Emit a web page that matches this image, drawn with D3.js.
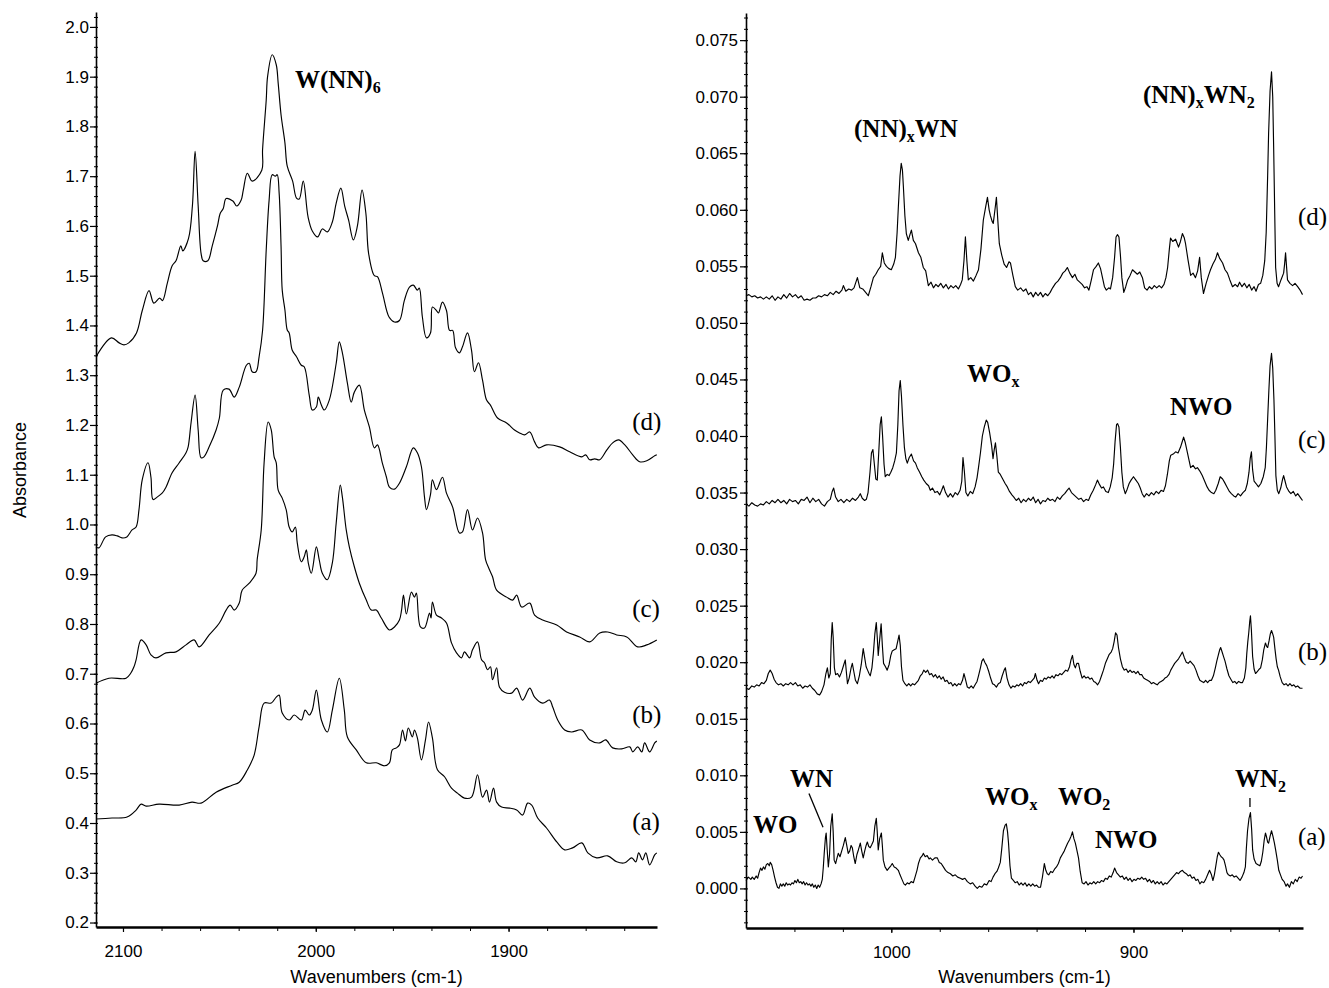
<!DOCTYPE html>
<html>
<head>
<meta charset="utf-8">
<script src="https://cdn.jsdelivr.net/npm/d3@7"></script>
<style>
  html, body { margin: 0; padding: 0; background: #fff; }
  svg { display: block; }
  .tick text { font-family: "Liberation Sans", Arial, sans-serif; font-size: 17px; fill: #000; }
  .axis-title { font-family: "Liberation Sans", Arial, sans-serif; font-size: 18px; fill: #000; }
  .band { font-family: "Liberation Serif", "Times New Roman", serif; font-weight: bold; font-size: 25px; fill: #000; }
  .trace-id { font-family: "Liberation Serif", "Times New Roman", serif; font-size: 25px; fill: #000; }
</style>
</head>
<body>
<svg id="chart" width="1329" height="988"></svg>
<script>
// ---- N≡N stretch region (wavenumber cm-1, absorbance) ----
const nnTraceA = [[2114,0.408],[2105.7,0.41],[2097.9,0.412],[2093.2,0.426],[2090.6,0.438],[2088,0.434],[2081.3,0.438],[2070.9,0.436],[2064.2,0.442],[2059.5,0.44],[2051.7,0.462],[2043.4,0.476],[2039.7,0.482],[2035.6,0.506],[2032,0.536],[2029.4,0.593],[2026.8,0.641],[2023.1,0.641],[2020.5,0.653],[2019,0.657],[2017.4,0.621],[2013.8,0.607],[2011.2,0.617],[2007.5,0.607],[2005.5,0.627],[2003.4,0.617],[2001.8,0.627],[1999.7,0.667],[1997.1,0.607],[1994,0.583],[1991.4,0.627],[1987.8,0.691],[1985.2,0.627],[1983.6,0.573],[1979,0.547],[1973.8,0.521],[1968.6,0.521],[1964.4,0.515],[1961.8,0.521],[1960.3,0.547],[1958.2,0.551],[1956.6,0.557],[1955,0.587],[1953.5,0.565],[1952,0.591],[1949.9,0.573],[1948.8,0.587],[1947.3,0.571],[1945.2,0.527],[1943.1,0.567],[1941.5,0.603],[1939.5,0.571],[1936.9,0.507],[1933.2,0.493],[1929.6,0.47],[1926.5,0.46],[1922.9,0.45],[1919.2,0.452],[1916.1,0.497],[1913.5,0.452],[1911.4,0.466],[1909.9,0.442],[1907.8,0.47],[1906.2,0.442],[1903.6,0.432],[1899.5,0.43],[1895.8,0.426],[1892.7,0.416],[1890.1,0.44],[1888,0.436],[1884.9,0.41],[1880.3,0.39],[1875,0.362],[1870.9,0.346],[1866.8,0.35],[1862,0.36],[1858.9,0.34],[1854.3,0.33],[1848.6,0.334],[1843.9,0.322],[1839.7,0.32],[1836.1,0.33],[1834,0.322],[1832.5,0.34],[1830.5,0.326],[1828.8,0.34],[1826.8,0.316],[1824.2,0.336],[1823.1,0.34]];
const nnTraceB = [[2114,0.681],[2107.3,0.691],[2098.4,0.691],[2096,0.701],[2094.3,0.714],[2093.2,0.728],[2090.6,0.768],[2088,0.758],[2085.5,0.738],[2082.9,0.732],[2077.7,0.742],[2072.5,0.744],[2067.3,0.758],[2063.1,0.768],[2060.5,0.754],[2055.3,0.778],[2050,0.802],[2046.5,0.828],[2044.4,0.838],[2042.3,0.828],[2039.7,0.842],[2038.2,0.868],[2034.5,0.882],[2031,0.902],[2030.4,0.929],[2028.3,0.989],[2026.8,1.124],[2024.7,1.206],[2023.1,1.19],[2021.6,1.136],[2020.5,1.124],[2019.5,1.069],[2017.4,1.053],[2015.3,1.029],[2013.8,0.995],[2012.2,0.985],[2010.6,0.995],[2009.6,0.963],[2007.5,0.925],[2006,0.935],[2004.9,0.949],[2003.9,0.923],[2002.3,0.902],[1999.7,0.955],[1998.2,0.929],[1996.6,0.902],[1994,0.889],[1991.4,0.923],[1989.4,1.003],[1987.3,1.079],[1986.2,1.055],[1984.2,0.989],[1982.6,0.955],[1980,0.915],[1977.4,0.882],[1973.8,0.848],[1971.2,0.828],[1968.6,0.828],[1966,0.812],[1961.8,0.788],[1959.2,0.794],[1956.6,0.808],[1955.5,0.828],[1954.5,0.858],[1953,0.82],[1950.4,0.864],[1948.8,0.854],[1947.8,0.862],[1945.7,0.794],[1943.6,0.792],[1941,0.822],[1940.2,0.812],[1939.5,0.844],[1937.4,0.818],[1934.8,0.812],[1932.2,0.802],[1929.6,0.762],[1927,0.742],[1924.4,0.732],[1922.9,0.744],[1920.2,0.732],[1918.7,0.748],[1916.1,0.764],[1914,0.728],[1912.5,0.722],[1910.9,0.708],[1909.4,0.714],[1908.3,0.688],[1906.2,0.712],[1904.7,0.673],[1902.1,0.663],[1898.4,0.661],[1895.8,0.671],[1892.7,0.647],[1889,0.671],[1886.5,0.653],[1882.3,0.641],[1878.7,0.647],[1877.1,0.633],[1874.5,0.607],[1870.9,0.587],[1867.3,0.583],[1862,0.587],[1857.9,0.567],[1852.7,0.561],[1849.6,0.567],[1846,0.551],[1841.3,0.549],[1837.1,0.553],[1835.6,0.543],[1833,0.553],[1830.9,0.543],[1829.4,0.561],[1826.8,0.543],[1824.2,0.561],[1823.1,0.565]];
const nnTraceC = [[2114,0.955],[2112.5,0.953],[2109,0.975],[2105.7,0.979],[2103,0.977],[2100.5,0.973],[2098,0.975],[2095.3,0.989],[2093.2,0.995],[2091.7,1.03],[2090,1.09],[2087,1.124],[2085.5,1.095],[2084.4,1.05],[2082.3,1.055],[2079.7,1.063],[2077.7,1.075],[2074.5,1.104],[2071,1.123],[2067.3,1.144],[2066.2,1.156],[2064.7,1.204],[2062.6,1.26],[2061,1.19],[2059.5,1.134],[2058,1.136],[2055.3,1.156],[2051.7,1.19],[2050,1.214],[2048,1.27],[2045,1.272],[2042.3,1.256],[2039.7,1.276],[2036,1.32],[2034.5,1.324],[2033,1.307],[2031,1.307],[2029.4,1.337],[2027.6,1.39],[2025.7,1.552],[2024.2,1.652],[2022.6,1.703],[2021,1.7],[2020,1.703],[2019,1.666],[2018,1.558],[2017.4,1.471],[2016,1.431],[2014.8,1.391],[2013.8,1.385],[2012.2,1.35],[2010,1.337],[2007.5,1.32],[2006,1.317],[2003.4,1.26],[2001.8,1.23],[1999.7,1.236],[1998.7,1.256],[1997.1,1.24],[1995.6,1.23],[1993,1.25],[1989.4,1.324],[1987.8,1.367],[1986.2,1.345],[1983.6,1.284],[1981.6,1.246],[1980,1.266],[1977.4,1.28],[1974.8,1.23],[1972.2,1.196],[1969.6,1.154],[1968,1.16],[1965.5,1.124],[1963.4,1.096],[1961.8,1.075],[1959.2,1.071],[1956.6,1.083],[1953,1.116],[1949.4,1.154],[1947.3,1.144],[1945.2,1.116],[1943.6,1.055],[1942.6,1.03],[1940.5,1.06],[1939.5,1.09],[1937.4,1.07],[1934.3,1.095],[1932.2,1.063],[1929,1.035],[1925.5,0.983],[1923.9,0.985],[1921.3,1.03],[1918.7,0.989],[1916.1,1.013],[1913.5,0.983],[1911.9,0.929],[1909.9,0.909],[1908.3,0.895],[1906.2,0.868],[1901,0.854],[1897.9,0.848],[1895.8,0.858],[1893.2,0.834],[1889,0.842],[1886.5,0.818],[1882.3,0.808],[1875,0.798],[1869.9,0.784],[1863.1,0.774],[1857.9,0.764],[1852.7,0.782],[1848.6,0.784],[1843.9,0.778],[1838.7,0.774],[1833,0.754],[1828.3,0.758],[1823.1,0.768]];
const nnTraceD = [[2114,1.337],[2106,1.375],[2102,1.365],[2099.5,1.361],[2097,1.365],[2093,1.385],[2090,1.43],[2086.5,1.47],[2084,1.445],[2081,1.455],[2079.5,1.45],[2077,1.485],[2074.5,1.52],[2072.5,1.53],[2070,1.56],[2069,1.55],[2066,1.575],[2064,1.64],[2062.6,1.75],[2061,1.64],[2059.5,1.545],[2058.4,1.53],[2056,1.53],[2053.7,1.56],[2051,1.6],[2049.6,1.625],[2048,1.635],[2046.5,1.655],[2043,1.65],[2041,1.64],[2038.7,1.652],[2037.6,1.672],[2035.5,1.706],[2033,1.69],[2028,1.712],[2027.6,1.753],[2025.7,1.853],[2025,1.9],[2022.6,1.944],[2020.5,1.924],[2019.5,1.887],[2018,1.823],[2016,1.767],[2014.8,1.72],[2012,1.69],[2010,1.656],[2008.6,1.654],[2006.5,1.69],[2004,1.618],[2001.8,1.59],[1999,1.578],[1996.6,1.594],[1994,1.588],[1991.4,1.608],[1989.4,1.646],[1987,1.676],[1985,1.64],[1983,1.612],[1980.5,1.572],[1978.4,1.6],[1976,1.672],[1974,1.625],[1972.6,1.545],[1969.6,1.5],[1968,1.498],[1965.4,1.465],[1962,1.417],[1959.2,1.407],[1956.6,1.41],[1954,1.451],[1951.4,1.477],[1949.4,1.481],[1947.3,1.471],[1946.3,1.475],[1944.7,1.417],[1942.6,1.375],[1940.5,1.385],[1939.5,1.437],[1937.4,1.43],[1936.4,1.425],[1934.3,1.447],[1932.2,1.43],[1930.6,1.39],[1929,1.39],[1927.5,1.355],[1925.5,1.345],[1923.9,1.357],[1921.3,1.385],[1919.2,1.35],[1917.7,1.307],[1915.6,1.325],[1913.5,1.29],[1911.4,1.25],[1909.4,1.24],[1905.7,1.214],[1901,1.204],[1896.9,1.19],[1894.3,1.184],[1891.7,1.18],[1889,1.186],[1886.5,1.166],[1884.4,1.154],[1880.3,1.16],[1873.5,1.156],[1868.3,1.146],[1862,1.136],[1860,1.14],[1857.9,1.13],[1855.3,1.132],[1852.7,1.13],[1849,1.15],[1846,1.164],[1842.9,1.17],[1839.7,1.16],[1835.6,1.14],[1832,1.126],[1828.3,1.128],[1824.2,1.138],[1823.1,1.14]];

// ---- W≡N / W=O stretch region (wavenumber cm-1, absorbance) ----
const wnTraceA = [[1060,.0007],[1059,.001],[1058,.0008],[1057.4,.001],[1056.6,.0008],[1055.8,.0011],[1055.2,.0009],[1054.6,.0014],[1054,.0018],[1053.4,.0016],[1052.8,.0019],[1052.2,.0017],[1051.6,.0021],[1051,.0022],[1050.4,.002],[1050,.0023],[1049.4,.0021],[1048.8,.0016],[1048.2,.001],[1047.6,.0005],[1047,.0001],[1046.4,0],[1045.8,.0004],[1045.2,.0002],[1044.6,.0004],[1044,.0002],[1043.4,.0005],[1042.8,.0003],[1042.2,.0004],[1041.6,.0003],[1041,.0005],[1040.4,.0004],[1039.8,.0007],[1039.2,.0005],[1038.6,.0008],[1038,.0005],[1037.4,.0006],[1036.8,.0004],[1036.2,.0006],[1035.6,.0003],[1035,.0005],[1034.4,.0003],[1033.8,.0004],[1033.2,.0002],[1032.6,.0004],[1032,.0001],[1031.4,.0003],[1030.8,0],[1030.2,.0003],[1029.6,.0001],[1029,.0004],[1028.5,.0008],[1028.1,.0018],[1027.7,.0031],[1027.2,.0045],[1026.9,.0049],[1026.5,.0035],[1026,.0019],[1025.5,.003],[1025,.0055],[1024.4,.0066],[1024,.005],[1023.6,.0025],[1023,.0022],[1022.4,.0027],[1021.9,.0031],[1021.2,.0028],[1020.5,.0033],[1019.8,.0038],[1019,.0045],[1018.4,.0038],[1017.8,.0031],[1017.2,.0033],[1016.6,.0038],[1016.1,.0036],[1015.5,.0028],[1014.9,.0022],[1014.2,.003],[1013.6,.0034],[1012.8,.004],[1012.2,.0033],[1011.6,.0027],[1011,.0033],[1010.4,.0038],[1009.9,.0041],[1009.3,.0037],[1008.7,.0036],[1008,.0039],[1007.4,.0042],[1006.8,.0055],[1006.2,.0062],[1005.8,.005],[1005.4,.0034],[1004.8,.0044],[1004.1,.0049],[1003.7,.0038],[1003.3,.0025],[1002.6,.0019],[1001.7,.0016],[1001,.0018],[1000.2,.002],[999.6,.0022],[998.8,.0019],[998,.0018],[997.1,.0016],[996.4,.0012],[995.6,.0008],[994.8,.0004],[994.2,.0003],[993.4,.0005],[992.6,.0004],[991.8,.0006],[990.9,.0005],[990.2,.001],[989.4,.0016],[988.8,.0022],[988,.0027],[987.2,.0029],[986.8,.0031],[986,.0028],[985.2,.0029],[984.4,.0026],[983.9,.0027],[983,.0025],[982,.0027],[981,.0027],[980.2,.0023],[979.4,.0022],[978.5,.0019],[977.6,.0016],[976.6,.0014],[975.6,.0013],[974.6,.0011],[973.6,.0012],[972.6,.001],[971.5,.0009],[970.6,.0008],[969.6,.0009],[968.6,.0006],[967.4,.0004],[966.4,.0005],[965.4,.0002],[964.5,0],[963.6,.0002],[962.6,.0001],[961.6,.0004],[960.6,.0003],[959.6,.0007],[958.8,.0006],[958,.001],[957.2,.0013],[956.4,.0015],[955.8,.0018],[955,.0023],[954.4,.0035],[953.7,.0051],[953,.0056],[952.5,.0057],[952,.005],[951.6,.004],[951,.002],[950.4,.0009],[949.6,.0007],[948.8,.0005],[948,.0006],[947.2,.0003],[946.4,.0005],[945.6,.0003],[944.8,.0005],[944,.0002],[943.2,.0004],[942.4,.0002],[941.6,.0004],[940.8,.0002],[940,.0003],[939.2,.0001],[938.4,.0001],[937.6,.001],[936.8,.0022],[936.2,.0016],[935.6,.0013],[935,.0012],[934.2,.0015],[933.4,.0014],[932.6,.0017],[931.8,.0019],[931,.0022],[930.2,.0027],[929.4,.003],[928.6,.0033],[927.8,.0037],[927.2,.004],[926.4,.0043],[925.8,.0046],[925.2,.005],[924.6,.0044],[924,.004],[923.4,.0034],[922.7,.0027],[922,.0015],[921.2,.0005],[920.4,.0004],[919.6,.0006],[918.8,.0003],[918,.0005],[917.2,.0004],[916.4,.0006],[915.6,.0004],[914.8,.0006],[914,.0005],[913.2,.0007],[912.4,.0006],[911.6,.0009],[910.8,.0008],[910,.0011],[909.2,.001],[908.4,.0014],[907.8,.0018],[907,.0014],[906.2,.0012],[905.4,.001],[904.6,.0011],[903.8,.0008],[903,.001],[902.2,.0007],[901.4,.0009],[900.6,.0006],[899.8,.0008],[899,.0007],[898.2,.0009],[897.4,.0008],[896.6,.001],[895.8,.0008],[895,.0009],[894.2,.0006],[893.4,.0008],[892.6,.0005],[891.8,.0007],[891,.0004],[890.2,.0006],[889.4,.0004],[888.6,.0006],[887.8,.0003],[887,.0005],[886.2,.0004],[885.4,.0006],[884.6,.0008],[883.8,.001],[883,.0012],[882.2,.0014],[881.4,.0013],[880.6,.0015],[879.8,.0016],[879,.0014],[878.2,.0013],[877.4,.0011],[876.6,.0012],[875.8,.0009],[875,.001],[874.2,.0007],[873.4,.0008],[872.6,.0004],[871.8,.0006],[871,.0005],[870.2,.0008],[869.4,.0012],[868.6,.0016],[867.8,.0012],[867.2,.0007],[866.6,.0012],[866,.002],[865.4,.0028],[864.9,.0032],[864.4,.003],[863.8,.0028],[863.2,.0027],[862.6,.0025],[862,.002],[861.4,.0014],[860.8,.0012],[860,.0011],[859.2,.0012],[858.4,.001],[857.6,.0011],[856.8,.0009],[856,.0007],[855.2,.001],[854.4,.0014],[853.8,.0019],[853.4,.0035],[852.9,.0051],[852.3,.0062],[851.7,.0067],[851.2,.0052],[850.8,.0034],[850.2,.0026],[849.4,.0022],[848.6,.0021],[847.8,.002],[847.2,.0024],[846.6,.0032],[846,.0043],[845.5,.0049],[845,.0045],[844.6,.0041],[844.2,.004],[843.6,.0046],[843,.0051],[842.4,.0046],[841.8,.004],[841.3,.0034],[840.6,.0025],[840,.0016],[839.3,.0012],[838.6,.0008],[837.8,.0006],[837,.0002],[836.4,.0004],[835.6,.0001],[834.8,.0006],[834,.0004],[833.2,.0008],[832.4,.0006],[831.6,.001],[830.8,.0009],[830.2,.0011]];
const wnTraceB = [[1060,.0177],[1058.8,.0176],[1057.6,.0179],[1056.6,.0178],[1055.6,.018],[1054.6,.0179],[1053.6,.0182],[1052.6,.0181],[1051.6,.0184],[1050.8,.019],[1050,.0193],[1049.2,.019],[1048.4,.0185],[1047.6,.0182],[1046.6,.018],[1045.6,.0181],[1044.6,.0179],[1043.6,.0181],[1042.6,.018],[1041.6,.0182],[1040.6,.018],[1039.6,.0182],[1038.6,.0179],[1037.6,.018],[1036.6,.0177],[1035.6,.0179],[1034.6,.0178],[1033.6,.018],[1032.6,.0177],[1031.6,.0175],[1030.6,.0172],[1029.6,.0171],[1028.8,.0174],[1027.8,.018],[1027,.019],[1026.4,.0195],[1025.8,.0186],[1025.2,.019],[1024.8,.022],[1024.4,.0235],[1024,.0222],[1023.5,.0195],[1023,.0189],[1022.2,.019],[1021.4,.0187],[1020.6,.0191],[1019.6,.0198],[1019,.0202],[1018.5,.019],[1018.1,.0181],[1017.4,.0186],[1016.6,.0195],[1016.1,.0199],[1015.5,.0192],[1014.8,.0184],[1014,.0181],[1013.2,.0188],[1012.4,.0198],[1011.6,.0212],[1011,.0204],[1010.4,.0196],[1009.8,.0193],[1009.2,.019],[1008.7,.0188],[1008,.0195],[1007.4,.0208],[1006.8,.0225],[1006.2,.0235],[1005.8,.0222],[1005.4,.0206],[1004.8,.022],[1004.2,.0234],[1003.7,.0215],[1003.2,.0199],[1002.4,.0196],[1001.7,.0193],[1000.9,.0198],[1000.2,.0206],[999.6,.021],[998.8,.0211],[998,.0212],[997.4,.0218],[996.8,.0224],[996.3,.0215],[995.8,.0196],[995.2,.0184],[994.4,.0181],[993.6,.0179],[992.8,.0181],[992,.0179],[991.2,.0181],[990.4,.018],[989.6,.0182],[988.8,.0184],[988,.0188],[987.2,.019],[986.6,.0193],[985.8,.0191],[985,.0193],[984.2,.0189],[983.4,.019],[982.6,.0187],[981.8,.0189],[981,.0186],[980.2,.0188],[979.4,.0185],[978.6,.0187],[977.8,.0183],[977,.0184],[976.2,.0181],[975.4,.0182],[974.6,.0179],[973.8,.0181],[973,.0179],[972.2,.0181],[971.4,.018],[970.6,.0184],[970,.019],[969.4,.0185],[968.6,.0178],[967.8,.0177],[967,.0179],[966.2,.0177],[965.4,.018],[964.6,.0183],[964,.0188],[963.2,.0195],[962.6,.0201],[962,.0203],[961.4,.02],[960.6,.0197],[959.8,.0192],[959,.0186],[958.2,.0181],[957.4,.018],[956.6,.0178],[955.8,.0181],[955,.0182],[954.2,.0188],[953.4,.0193],[952.9,.0195],[952.2,.0186],[951.4,.018],[950.6,.0177],[949.8,.0179],[949,.0178],[948.2,.018],[947.4,.0179],[946.6,.0181],[945.8,.0179],[945,.0182],[944.2,.0181],[943.4,.0183],[942.6,.0182],[941.8,.0184],[941,.0186],[940.5,.019],[939.8,.0184],[939.2,.0181],[938.4,.0184],[937.6,.0183],[936.8,.0186],[936,.0185],[935.2,.0187],[934.4,.0186],[933.6,.0188],[932.8,.0186],[932,.0189],[931.2,.0188],[930.4,.019],[929.6,.0189],[928.8,.0191],[928,.0193],[927.2,.0192],[926.4,.0196],[925.8,.0202],[925.2,.0206],[924.6,.0198],[924,.0195],[923.4,.0199],[922.7,.0199],[922,.0192],[921.2,.0186],[920.4,.0188],[919.6,.0186],[918.8,.0187],[918,.0185],[917.2,.0186],[916.4,.0183],[915.6,.0182],[914.8,.018],[914,.0183],[913.2,.0188],[912.4,.0193],[911.6,.0199],[910.8,.0203],[910,.0207],[909.2,.0209],[908.6,.0212],[908,.0218],[907.4,.0226],[906.8,.0224],[906.2,.0213],[905.4,.0203],[904.6,.0196],[903.8,.0193],[903,.0194],[902.2,.0191],[901.4,.0193],[900.6,.0191],[899.8,.0192],[899,.019],[898.2,.0192],[897.4,.0189],[896.6,.0189],[895.8,.0186],[895,.0185],[894.2,.0184],[893.4,.0183],[892.6,.0181],[891.8,.0182],[891,.0181],[890.2,.018],[889.4,.0182],[888.6,.0183],[887.8,.0184],[887,.0186],[886.2,.0187],[885.4,.0189],[884.6,.0193],[883.8,.0196],[883,.0199],[882.2,.0201],[881.4,.0203],[880.6,.0206],[879.8,.0209],[879,.0204],[878.2,.02],[877.4,.0199],[876.6,.0201],[875.8,.0199],[875,.0197],[874.2,.0193],[873.4,.0188],[872.6,.0184],[871.8,.0183],[871,.0182],[870.2,.0184],[869.4,.0182],[868.6,.0184],[867.8,.0184],[867,.0188],[866.2,.0195],[865.6,.0201],[865,.0206],[864.4,.0211],[864,.0213],[863.4,.0209],[862.8,.0205],[862.2,.0201],[861.4,.0194],[860.6,.0188],[859.8,.0185],[859,.0182],[858.2,.0183],[857.4,.0181],[856.6,.0183],[855.8,.0182],[855,.0182],[854.2,.0186],[853.6,.0195],[853.2,.0208],[852.8,.0218],[852.4,.0226],[852,.0236],[851.7,.0241],[851.3,.0228],[850.8,.0205],[850.2,.0194],[849.6,.019],[848.8,.0192],[848,.0194],[847.5,.0195],[846.8,.0202],[846.2,.0211],[845.5,.0217],[845,.0214],[844.6,.0213],[844,.0219],[843.5,.0225],[843,.0228],[842.5,.0225],[842.1,.0222],[841.6,.0212],[841.1,.0203],[840.6,.0196],[840.1,.0193],[839.4,.0187],[838.6,.0182],[837.8,.018],[837,.0181],[836.2,.0179],[835.4,.0181],[834.6,.0179],[833.8,.018],[833,.0178],[832.2,.0179],[831.2,.0177],[830.2,.0177]];
const wnTraceC = [[1060,.034],[1058.8,.0338],[1057.6,.0341],[1056.4,.0339],[1055.2,.0338],[1054,.034],[1052.8,.0339],[1051.6,.0342],[1050.4,.034],[1049.2,.0343],[1048,.0341],[1046.8,.0344],[1045.6,.0341],[1044.4,.0343],[1043.2,.034],[1042,.0344],[1040.8,.0342],[1039.6,.0343],[1038.4,.034],[1037.2,.0344],[1036,.0343],[1034.8,.0346],[1033.6,.0341],[1032.4,.0345],[1031.2,.0342],[1030,.0344],[1028.8,.034],[1027.6,.0338],[1026.4,.0342],[1025.2,.0344],[1024.4,.0351],[1023.8,.0354],[1023,.0346],[1021.9,.0342],[1020.8,.0344],[1019.6,.0341],[1018.4,.0344],[1017.2,.0342],[1016,.0345],[1014.8,.0343],[1013.6,.0346],[1012.8,.0349],[1012,.0345],[1011,.0343],[1010.3,.0344],[1009.6,.035],[1008.8,.0368],[1008.2,.0385],[1007.6,.0388],[1007,.0375],[1006.4,.0362],[1005.8,.0361],[1005.2,.0385],[1004.6,.041],[1004.1,.0417],[1003.6,.04],[1003,.0375],[1002.5,.0364],[1001.7,.0366],[1000.9,.0365],[1000.2,.0368],[999.4,.0372],[998.6,.0378],[997.9,.0385],[997.3,.041],[996.8,.044],[996.3,.0449],[995.8,.0435],[995.2,.041],[994.6,.039],[994,.038],[993.4,.0376],[992.6,.0381],[991.7,.0384],[990.8,.0378],[990,.0376],[989.3,.0372],[988.3,.0368],[987.4,.0364],[986.6,.0361],[985.6,.0358],[984.6,.0356],[983.9,.0352],[983,.0354],[982,.035],[981,.0351],[980,.0348],[979.2,.0352],[978.5,.0356],[977.6,.035],[976.6,.0346],[975.6,.0349],[974.6,.0346],[973.6,.035],[972.6,.0348],[971.6,.0352],[970.9,.036],[970.4,.0381],[969.8,.0368],[969.2,.035],[968.4,.0347],[967.4,.0351],[966.4,.0349],[965.4,.0355],[964.6,.0363],[964,.0372],[963.2,.0385],[962.4,.04],[961.6,.0408],[960.8,.0414],[960.2,.0412],[959.4,.0403],[958.6,.0392],[958,.038],[957.5,.0388],[957,.0394],[956.4,.0382],[955.8,.0368],[955,.0366],[954,.0362],[953,.0358],[952.1,.0355],[951.2,.0351],[950.2,.0348],[949.4,.0346],[948.4,.0343],[947.4,.0345],[946.4,.0341],[945.4,.0344],[944.4,.0342],[943.4,.0345],[942.4,.0343],[941.4,.0346],[940.4,.0341],[939.4,.0344],[938.4,.034],[937.4,.0343],[936.4,.0342],[935.4,.0345],[934.4,.0343],[933.4,.0344],[932.4,.0342],[931.4,.0346],[930.4,.0344],[929.4,.0347],[928.4,.0349],[927.4,.0352],[926.6,.0354],[925.6,.035],[924.6,.0348],[923.6,.0346],[922.6,.0344],[921.6,.0345],[920.6,.0342],[919.6,.0344],[918.6,.0343],[917.6,.0348],[916.6,.0352],[915.6,.0357],[914.9,.0361],[914,.0357],[913.2,.0354],[912.4,.0355],[911.4,.0351],[910.4,.035],[909.6,.0355],[908.8,.0363],[908.2,.0375],[907.6,.0395],[907,.041],[906.6,.0411],[906,.0408],[905.4,.039],[904.8,.0368],[904.2,.0355],[903.4,.0349],[902.6,.0353],[901.8,.0358],[901,.0361],[900,.0364],[899,.0361],[898,.0358],[897.2,.0354],[896.4,.0349],[895.6,.0346],[894.6,.0349],[893.6,.0347],[892.6,.035],[891.6,.0348],[890.6,.0351],[889.6,.0349],[888.6,.0352],[887.6,.0351],[886.8,.0356],[886,.0366],[885.2,.0378],[884.6,.0383],[883.6,.0384],[882.6,.0386],[881.6,.0385],[880.6,.039],[880,.0394],[879.3,.0399],[878.6,.0394],[877.8,.0386],[877,.0378],[876.4,.0372],[875.4,.0374],[874.4,.0371],[873.6,.0372],[872.6,.0369],[871.6,.0365],[870.6,.036],[869.6,.0355],[868.8,.0352],[867.8,.035],[866.8,.0349],[866,.0352],[865,.0358],[864.2,.0364],[863.2,.0362],[862.4,.0359],[861.4,.0355],[860.4,.0351],[859.6,.0349],[858.6,.0347],[857.8,.0346],[856.8,.0349],[855.8,.0347],[854.8,.035],[853.8,.0352],[853,.0358],[852.3,.0368],[851.8,.038],[851.3,.0386],[850.8,.037],[850.2,.036],[849.4,.0358],[848.4,.0355],[847.4,.0358],[846.4,.0364],[845.6,.0372],[845.1,.039],[844.6,.0415],[844.1,.044],[843.6,.0462],[843,.0473],[842.5,.046],[842,.0432],[841.6,.04],[841.2,.0365],[840.6,.0352],[840,.0349],[839.2,.0354],[838.4,.0362],[838,.0365],[837.4,.036],[836.8,.0355],[835.8,.0351],[835,.0349],[834,.0351],[833,.0347],[832.2,.0349],[831.2,.0346],[830.2,.0343]];
const wnTraceD = [[1060,.0524],[1058.8,.0525],[1057.6,.0523],[1056.4,.0524],[1055.2,.0522],[1054,.0523],[1052.8,.0521],[1051.6,.0523],[1050.4,.0521],[1049.2,.0524],[1048,.052],[1046.8,.0523],[1045.6,.0521],[1044.4,.0525],[1043.2,.0522],[1042,.0526],[1040.8,.0523],[1039.6,.0525],[1038.4,.0522],[1037.2,.0524],[1036,.052],[1034.8,.0521],[1033.6,.052],[1032.4,.0522],[1031.2,.0522],[1030,.0524],[1028.8,.0523],[1027.6,.0525],[1026.4,.0524],[1025.2,.0527],[1024,.0525],[1022.8,.0528],[1021.6,.0526],[1020.4,.0529],[1019.8,.0533],[1018.8,.0528],[1017.6,.053],[1016.4,.0529],[1015.4,.0531],[1014,.054],[1013,.0531],[1011.8,.053],[1010.6,.0527],[1009.5,.0524],[1008.4,.0532],[1007.4,.054],[1006.4,.0543],[1005.4,.0547],[1004.4,.055],[1003.7,.0562],[1002.9,.0553],[1002,.055],[1001,.0548],[1000,.0547],[999,.0552],[998.3,.0558],[997.6,.058],[997.1,.0602],[996.4,.063],[995.9,.0641],[995.4,.0635],[995,.062],[994.4,.0595],[993.8,.0579],[993,.0573],[992.3,.0578],[991.7,.0582],[990.9,.0573],[990,.057],[988.8,.0562],[987.8,.0558],[986.8,.0549],[985.8,.0546],[984.7,.0533],[983.6,.0536],[982.6,.0531],[981.6,.0534],[980.6,.0532],[979.6,.0535],[978.5,.0531],[977.4,.0534],[976.4,.053],[975.4,.0533],[974.4,.0531],[973.4,.0533],[972.3,.053],[971.4,.0534],[970.7,.0538],[970,.0555],[969.4,.0576],[968.8,.0555],[968.2,.0538],[967.2,.054],[966.1,.0537],[965,.0542],[964,.0547],[963,.0565],[962,.0591],[961,.0603],[960.3,.0611],[959.6,.06],[959.1,.0595],[958.4,.059],[957.9,.0588],[957.2,.06],[956.6,.0611],[956,.059],[955.4,.057],[954.4,.056],[953.4,.0552],[952.4,.0549],[951.4,.0554],[950.8,.0553],[949.8,.0542],[948.8,.0532],[947.8,.0529],[946.6,.0531],[945.5,.0528],[944.4,.053],[943.4,.0525],[942.4,.0527],[941.4,.0523],[940.4,.0527],[939.4,.0524],[938.4,.0527],[937.4,.0523],[936.4,.0526],[935.4,.0524],[934.4,.0527],[933.4,.0531],[932.2,.0535],[931.2,.0537],[930.2,.054],[929.2,.0544],[928.2,.0546],[927.3,.0549],[926.3,.0544],[925.2,.054],[924.2,.0543],[923.2,.0538],[922.2,.0536],[921.2,.0534],[920.2,.0531],[919.2,.0532],[918.4,.0529],[917.4,.0538],[916.5,.0547],[915.4,.055],[914.5,.0553],[913.6,.0548],[912.8,.054],[912,.0532],[911.2,.0529],[910.2,.0531],[909.5,.053],[908.6,.054],[907.8,.0558],[907.2,.0576],[906.6,.0578],[906,.0576],[905.4,.056],[904.8,.054],[904,.0527],[903.2,.0532],[902.4,.0538],[901.4,.0542],[900.4,.0547],[899.4,.0545],[898.4,.0543],[897.4,.0545],[896.3,.054],[895.4,.0531],[894.4,.0529],[893.4,.0532],[892.4,.053],[891.4,.0533],[890.4,.0531],[889.4,.0533],[888.4,.0531],[887.4,.0534],[886.6,.054],[885.9,.0549],[885.2,.0565],[884.7,.0575],[883.8,.0572],[882.6,.0574],[881.4,.0567],[880.6,.0572],[879.8,.0579],[879,.0575],[878.5,.057],[877.5,.0556],[876.4,.0542],[875.4,.0544],[874.4,.054],[873.5,.0546],[872.7,.0558],[872,.054],[871.1,.0526],[870,.0535],[869,.0542],[868.2,.0547],[867.2,.0552],[866.2,.0556],[865.3,.0562],[864.4,.0557],[863.2,.0553],[862.2,.0547],[861.2,.0544],[860.2,.0538],[859.1,.0532],[858,.0534],[857,.0532],[856.2,.0536],[855.2,.0532],[854.2,.0535],[853.2,.0531],[852.2,.0534],[851.2,.0529],[850.2,.0532],[849.4,.0528],[848.4,.0534],[847.5,.0535],[846.6,.0542],[845.8,.0555],[845.2,.058],[844.6,.063],[844.2,.0668],[843.6,.0705],[843,.0722],[842.5,.07],[842.1,.0653],[841.7,.06],[841.3,.0549],[840.7,.0535],[840.1,.0532],[839.1,.0538],[838,.0544],[837.6,.0552],[837.2,.0562],[836.8,.055],[836.4,.0538],[835.4,.0535],[834.3,.0533],[833.3,.0535],[832.2,.0532],[831.2,.0529],[830.2,.0525]];

// ---- axis ticks ----
const nnXTicks = [2100, 2000, 1900];
const nnYTicks = [0.2,0.3,0.4,0.5,0.6,0.7,0.8,0.9,1.0,1.1,1.2,1.3,1.4,1.5,1.6,1.7,1.8,1.9,2.0];
const wnXTicks = [1000, 900];
const wnYTicks = [0.000,0.005,0.010,0.015,0.020,0.025,0.030,0.035,0.040,0.045,0.050,0.055,0.060,0.065,0.070,0.075];

// ---- trace letters [text, wavenumber, absorbance] and band assignments [[text, isSubscript]...], wavenumber, absorbance ----
const nnTraceIds = [["(d)",1835.9,1.19],["(c)",1835.9,0.814],["(b)",1835.9,0.601],["(a)",1835.9,0.386]];
const nnBands = [[[["W(NN)",false],["6",true]],2010.8,1.877]];
const wnTraceIds = [["(d)",832.1,0.0587],["(c)",832.1,0.0389],["(b)",832.1,0.0202],["(a)",832.1,0.0038]];
const wnBands = [
  [[["(NN)",false],["x",true],["WN",false]],1015.4,0.0664],
  [[["(NN)",false],["x",true],["WN",false],["2",true]],896.1,0.0694],
  [[["WO",false],["x",true]],968.7,0.0448],
  [[["NWO",false]],884.9,0.0419],
  [[["WN",false],["2",true]],858.1,0.0090],
  [[["WO",false],["x",true]],961.3,0.0074],
  [[["WO",false],["2",true]],931.2,0.0074],
  [[["NWO",false]],915.9,0.0036],
  [[["WN",false]],1041.8,0.0090],
  [[["WO",false]],1057.1,0.0049]
];
const wnLeaders = [[[1034.0,0.0084],[1028.2,0.0054]],[[851.9,0.0080],[851.9,0.0072]]];

const svg = d3.select("#chart");

function panel(cfg) {
  const x = d3.scaleLinear().domain(cfg.xDomain).range(cfg.xRange);
  const y = d3.scaleLinear().domain(cfg.yDomain).range(cfg.yRange);
  const g = svg.append("g");

  // minor ticks
  g.append("g").attr("transform", `translate(${cfg.xRange[0]},0)`)
    .call(d3.axisLeft(y).tickValues(cfg.yMinor).tickSize(3).tickFormat("").tickSizeOuter(0))
    .call(s => s.select(".domain").remove())
    .call(s => s.selectAll(".tick line").attr("x2", -2).attr("x1", 2).attr("stroke-width", 1));
  g.append("g").attr("transform", `translate(0,${cfg.yRange[0]})`)
    .call(d3.axisBottom(x).tickValues(cfg.xMinor).tickSize(4).tickFormat("").tickSizeOuter(0))
    .call(s => s.select(".domain").remove())
    .call(s => s.selectAll(".tick line").attr("stroke-width", 1));

  // major y axis
  g.append("g").attr("transform", `translate(${cfg.xRange[0]},0)`)
    .call(d3.axisLeft(y).tickValues(cfg.yTicks).tickFormat(d3.format(cfg.yFormat)).tickSize(6).tickPadding(cfg.yPad).tickSizeOuter(0))
    .call(s => s.select(".domain").attr("stroke-width", 1.6))
    .call(s => s.selectAll(".tick line").attr("stroke-width", 1.2));

  // major x axis
  g.append("g").attr("transform", `translate(0,${cfg.yRange[0]})`)
    .call(d3.axisBottom(x).tickValues(cfg.xTicks).tickFormat(d3.format("d")).tickSize(5).tickPadding(13).tickSizeOuter(0))
    .call(s => s.select(".domain").attr("stroke-width", 2.6))
    .call(s => s.selectAll(".tick line").attr("stroke-width", 1.2));

  g.append("text").attr("class", "axis-title")
    .attr("x", (cfg.xRange[0] + cfg.xRange[1]) / 2).attr("y", 983)
    .attr("text-anchor", "middle").text("Wavenumbers (cm-1)");

  const line = d3.line().curve(cfg.curve).x(d => x(d[0])).y(d => y(d[1]));
  g.selectAll("path.trace").data(cfg.traces).join("path")
    .attr("class", "trace").attr("d", line)
    .attr("fill", "none").attr("stroke", "#000").attr("stroke-width", 1.15)
    .attr("stroke-linejoin", "round");

  g.selectAll("text.trace-id").data(cfg.ids).join("text")
    .attr("class", "trace-id").attr("x", d => x(d[1])).attr("y", d => y(d[2])).text(d => d[0]);

  cfg.bands.forEach(b => {
    const t = g.append("text").attr("class", "band").attr("x", x(b[1])).attr("y", y(b[2]));
    let lowered = false;
    b[0].forEach(([s, sub]) => {
      const ts = t.append("tspan").text(s);
      if (sub && !lowered) { ts.attr("font-size", 16).attr("dy", 5); lowered = true; }
      else if (!sub && lowered) { ts.attr("dy", -5); lowered = false; }
      else if (sub) ts.attr("font-size", 16);
    });
  });

  g.selectAll("line.leader").data(cfg.leaders).join("line")
    .attr("class", "leader")
    .attr("x1", d => x(d[0][0])).attr("y1", d => y(d[0][1]))
    .attr("x2", d => x(d[1][0])).attr("y2", d => y(d[1][1]))
    .attr("stroke", "#000").attr("stroke-width", 1.3);
}

panel({
  xDomain: [2114, 1823], xRange: [96, 657],
  yDomain: [0.191, 2.03], yRange: [927, 12],
  xTicks: nnXTicks, xMinor: d3.range(1840, 2114, 20),
  yTicks: nnYTicks, yMinor: d3.range(0.2, 2.021, 0.02), yFormat: ".1f", yPad: 1,
  traces: [nnTraceA, nnTraceB, nnTraceC, nnTraceD], curve: d3.curveCatmullRom.alpha(0.5),
  ids: nnTraceIds, bands: nnBands, leaders: []
});

panel({
  xDomain: [1060, 830], xRange: [746, 1303],
  yDomain: [-0.0035, 0.0774], yRange: [928, 13],
  xTicks: wnXTicks, xMinor: d3.range(840, 1060, 20),
  yTicks: wnYTicks, yMinor: d3.range(-0.003, 0.0771, 0.001), yFormat: ".3f", yPad: 2,
  traces: [wnTraceA, wnTraceB, wnTraceC, wnTraceD], curve: d3.curveLinear,
  ids: wnTraceIds, bands: wnBands, leaders: wnLeaders
});

svg.append("text").attr("class", "axis-title")
  .attr("transform", "translate(26,470) rotate(-90)")
  .attr("text-anchor", "middle").text("Absorbance");
</script>
</body>
</html>
